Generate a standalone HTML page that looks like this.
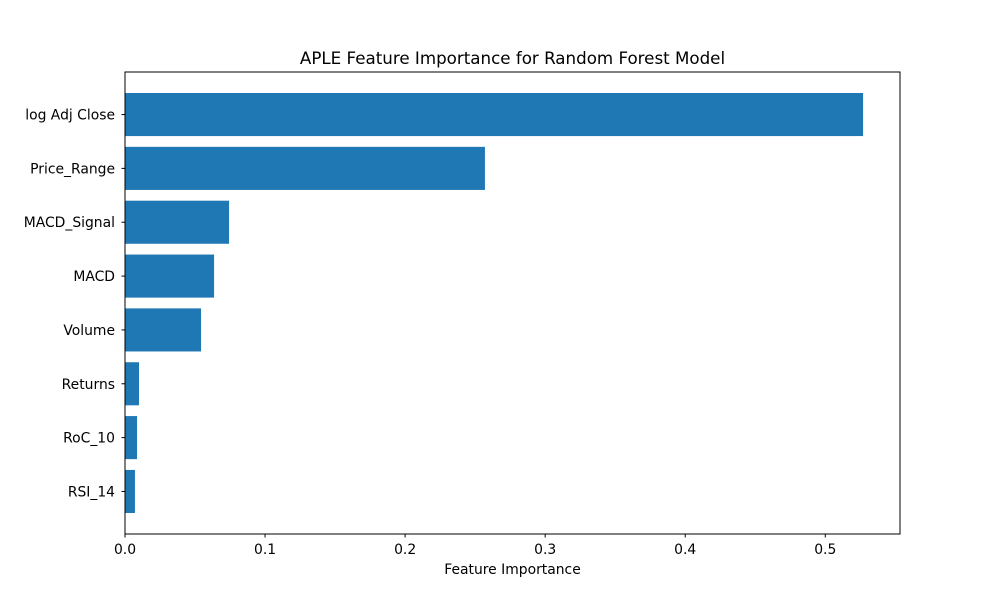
<!DOCTYPE html>
<html><head><meta charset="utf-8"><style>
body{margin:0;background:#fff;}
svg text{font-family:"DejaVu Sans","Liberation Sans",sans-serif;}
</style></head><body>
<svg id="chart" width="1000" height="600" viewBox="0 0 1000 600">
<rect width="1000" height="600" fill="#fff"/>
<text x="512.5" y="64" text-anchor="middle" font-size="16.7" fill="#000">APLE Feature Importance for Random Forest Model</text>
<g id="bars"></g>
<g id="xticks"></g>
<g id="yticks"></g>
<rect x="125" y="72" width="775" height="462" fill="none" stroke="#000" stroke-width="1"/>
<text x="512.5" y="574" text-anchor="middle" font-size="13.9" fill="#000">Feature Importance</text>
</svg>
<script>
const categories = ["log Adj Close","Price_Range","MACD_Signal","MACD","Volume","Returns","RoC_10","RSI_14"];
const importances = [0.527,0.257,0.0743,0.0636,0.0543,0.010,0.0086,0.0071];
const xTickValues = [0,0.1,0.2,0.3,0.4,0.5];
const xTickLabels = ["0.0","0.1","0.2","0.3","0.4","0.5"];

const L=125,R=900,T=72,B=534;
const xmax=Math.max(...importances)*1.05;
const x=v=>L+v/xmax*(R-L);
const n=categories.length;
const ymin=-0.4-0.05*(n-1+0.8), ymax=n-1+0.4+0.05*(n-1+0.8);
const y=i=>T+(i-ymin)/(ymax-ymin)*(B-T);
const ns="http://www.w3.org/2000/svg";
const mk=(t,a,p)=>{const e=document.createElementNS(ns,t);for(const k in a)e.setAttribute(k,a[k]);p.appendChild(e);return e;};
const bars=document.getElementById('bars'),xt=document.getElementById('xticks'),yt=document.getElementById('yticks');
categories.forEach((c,i)=>{
  const cy=y(i),h=0.8*(y(1)-y(0));
  const r=mk('rect',{x:x(0),y:cy-h/2,width:x(importances[i])-x(0),height:h,fill:'#1f77b4'},bars);
  
  
  mk('line',{x1:L-3.5,x2:L,y1:cy,y2:cy,stroke:'#000'},yt);
  const t=mk('text',{x:L-10,y:cy+5,'text-anchor':'end','font-size':'13.9'},yt);
  t.textContent=c;
  
  
});
xTickValues.forEach((v,i)=>{
  mk('line',{x1:x(v),x2:x(v),y1:B,y2:B+3.5,stroke:'#000'},xt);
  const t=mk('text',{x:x(v),y:B+20,'text-anchor':'middle','font-size':'13.9'},xt);
  t.textContent=xTickLabels[i];
  
  
});
</script>
</body></html>
